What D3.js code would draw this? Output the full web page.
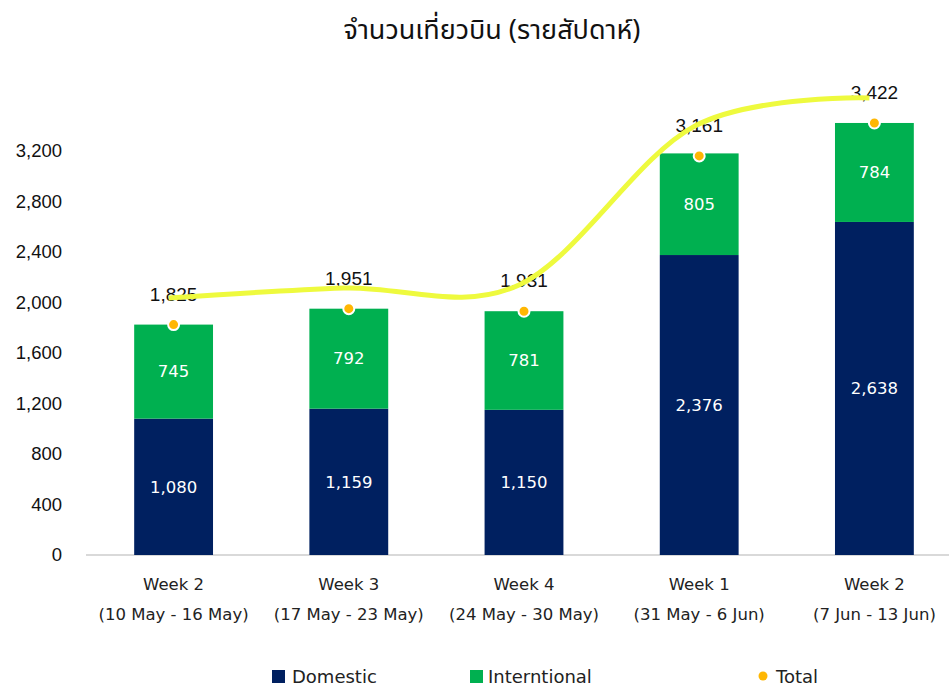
<!DOCTYPE html>
<html>
<head>
<meta charset="utf-8">
<script src="https://cdn.jsdelivr.net/npm/d3@7"></script>
<style>
  body { margin: 0; background: #fff; }
  text { font-family: "DejaVu Sans", Tahoma, sans-serif; }
</style>
</head>
<body>
<div id="chart"></div>
<script>
// Categories (two-line labels)
const weeks = ["Week 2", "Week 3", "Week 4", "Week 1", "Week 2"];
const ranges = ["(10 May - 16 May)", "(17 May - 23 May)", "(24 May - 30 May)", "(31 May - 6 Jun)", "(7 Jun - 13 Jun)"];

// Series values
const domestic = [1080, 1159, 1150, 2376, 2638];
const international = [745, 792, 781, 805, 784];
const total = [1825, 1951, 1931, 3161, 3422];
// Yellow smoothed line (in axis units)
const trend = [2036, 2115, 2139, 3395, 3620];

const yTicks = [0, 400, 800, 1200, 1600, 2000, 2400, 2800, 3200];

const width = 949, height = 686;

const svg = d3.select("#chart").append("svg")
  .attr("width", width)
  .attr("height", height);

// Scales
const x = d3.scaleBand()
  .domain(d3.range(weeks.length))
  .range([86, 962])
  .paddingInner(0.55)
  .paddingOuter(0.275);

const y = d3.scaleLinear()
  .domain([0, 3200])
  .range([555, 151]);

// Title
svg.append("text")
  .attr("x", 492)
  .attr("y", 39)
  .attr("text-anchor", "middle")
  .style("font-family", "Tahoma, 'Noto Sans Thai', 'Noto Sans', sans-serif")
  .style("font-size", "27px")
  .style("fill", "#111")
  .text("จำนวนเที่ยวบิน (รายสัปดาห์)");

// Y axis labels (no line)
const yAxis = svg.append("g")
  .attr("transform", "translate(62,0)")
  .call(d3.axisLeft(y).tickValues(yTicks).tickSize(0).tickPadding(0).tickFormat(d3.format(",")));
yAxis.select(".domain").remove();
yAxis.selectAll("text")
  .style("font-family", "'Liberation Sans', Arial, sans-serif")
  .style("font-size", "18.5px")
  .style("fill", "#111");

// Baseline
svg.append("line")
  .attr("x1", 86).attr("x2", width)
  .attr("y1", y(0)).attr("y2", y(0))
  .style("stroke", "#d9d9d9")
  .style("stroke-width", 2);

const colors = { domestic: "#002060", international: "#00B050" };

// Stacked bars
const bars = svg.selectAll(".bar")
  .data(weeks.map((w, i) => i))
  .enter().append("g")
  .attr("class", "bar");

bars.append("rect")
  .attr("x", i => x(i))
  .attr("width", x.bandwidth())
  .attr("y", i => y(domestic[i]))
  .attr("height", i => y(0) - y(domestic[i]))
  .style("fill", colors.domestic);

bars.append("rect")
  .attr("x", i => x(i))
  .attr("width", x.bandwidth())
  .attr("y", i => y(domestic[i] + international[i]))
  .attr("height", i => y(domestic[i]) - y(domestic[i] + international[i]))
  .style("fill", colors.international);

// Segment labels
bars.append("text")
  .attr("x", i => x(i) + x.bandwidth() / 2)
  .attr("y", i => y(domestic[i] / 2))
  .attr("dy", "0.35em")
  .attr("text-anchor", "middle")
  .style("font-size", "16.5px")
  .style("fill", "#fff")
  .text(i => d3.format(",")(domestic[i]));

bars.append("text")
  .attr("x", i => x(i) + x.bandwidth() / 2)
  .attr("y", i => y(domestic[i] + international[i] / 2))
  .attr("dy", "0.35em")
  .attr("text-anchor", "middle")
  .style("font-size", "16.5px")
  .style("fill", "#fff")
  .text(i => d3.format(",")(international[i]));

// Total labels (under the yellow line, as in the original)
svg.selectAll(".total-label")
  .data(total)
  .enter().append("text")
  .attr("class", "total-label")
  .attr("x", (d, i) => x(i) + x.bandwidth() / 2)
  .attr("y", d => y(d) - 24)
  .attr("text-anchor", "middle")
  .style("font-family", "'Liberation Sans', Arial, sans-serif")
  .style("font-size", "19px")
  .style("fill", "#111")
  .text(d => d3.format(",")(d));

// Yellow smoothed line (drawn slightly left of the bar centres like the original)
const trendShift = -5;
const line = d3.line()
  .x((d, i) => x(i) + x.bandwidth() / 2 + trendShift)
  .y(d => y(d))
  .curve(d3.curveCatmullRom.alpha(0));

svg.append("path")
  .datum(trend)
  .attr("d", line)
  .style("fill", "none")
  .style("stroke", "#EEFA3E")
  .style("stroke-width", 5)
  .style("stroke-linecap", "butt");

// Total dots
svg.selectAll(".dot")
  .data(total)
  .enter().append("circle")
  .attr("class", "dot")
  .attr("cx", (d, i) => x(i) + x.bandwidth() / 2)
  .attr("cy", d => y(d))
  .attr("r", 5.5)
  .style("fill", "#FFB703")
  .style("stroke", "#fff")
  .style("stroke-width", 2);

// Category labels
const cat = svg.selectAll(".cat")
  .data(weeks.map((w, i) => i))
  .enter().append("text")
  .attr("class", "cat")
  .attr("text-anchor", "middle")
  .style("font-size", "16.5px")
  .style("fill", "#222");

cat.append("tspan")
  .attr("x", i => x(i) + x.bandwidth() / 2)
  .attr("y", 590)
  .text(i => weeks[i]);

cat.append("tspan")
  .attr("x", i => x(i) + x.bandwidth() / 2)
  .attr("y", 620)
  .text(i => ranges[i]);

// Legend
const legend = svg.append("g").attr("transform", "translate(0,677)");

legend.append("rect")
  .attr("x", 272).attr("y", -7).attr("width", 13).attr("height", 13)
  .style("fill", colors.domestic);
legend.append("text")
  .attr("x", 292).attr("dy", "0.35em")
  .style("font-size", "18px").style("fill", "#222")
  .text("Domestic");

legend.append("rect")
  .attr("x", 470).attr("y", -7).attr("width", 13).attr("height", 13)
  .style("fill", colors.international);
legend.append("text")
  .attr("x", 488).attr("dy", "0.35em")
  .style("font-size", "18px").style("fill", "#222")
  .text("Interntional");

legend.append("circle")
  .attr("cx", 763).attr("cy", -1).attr("r", 4.5)
  .style("fill", "#FFB703");
legend.append("text")
  .attr("x", 776).attr("dy", "0.35em")
  .style("font-size", "18px").style("fill", "#222")
  .text("Total");
</script>
</body>
</html>
